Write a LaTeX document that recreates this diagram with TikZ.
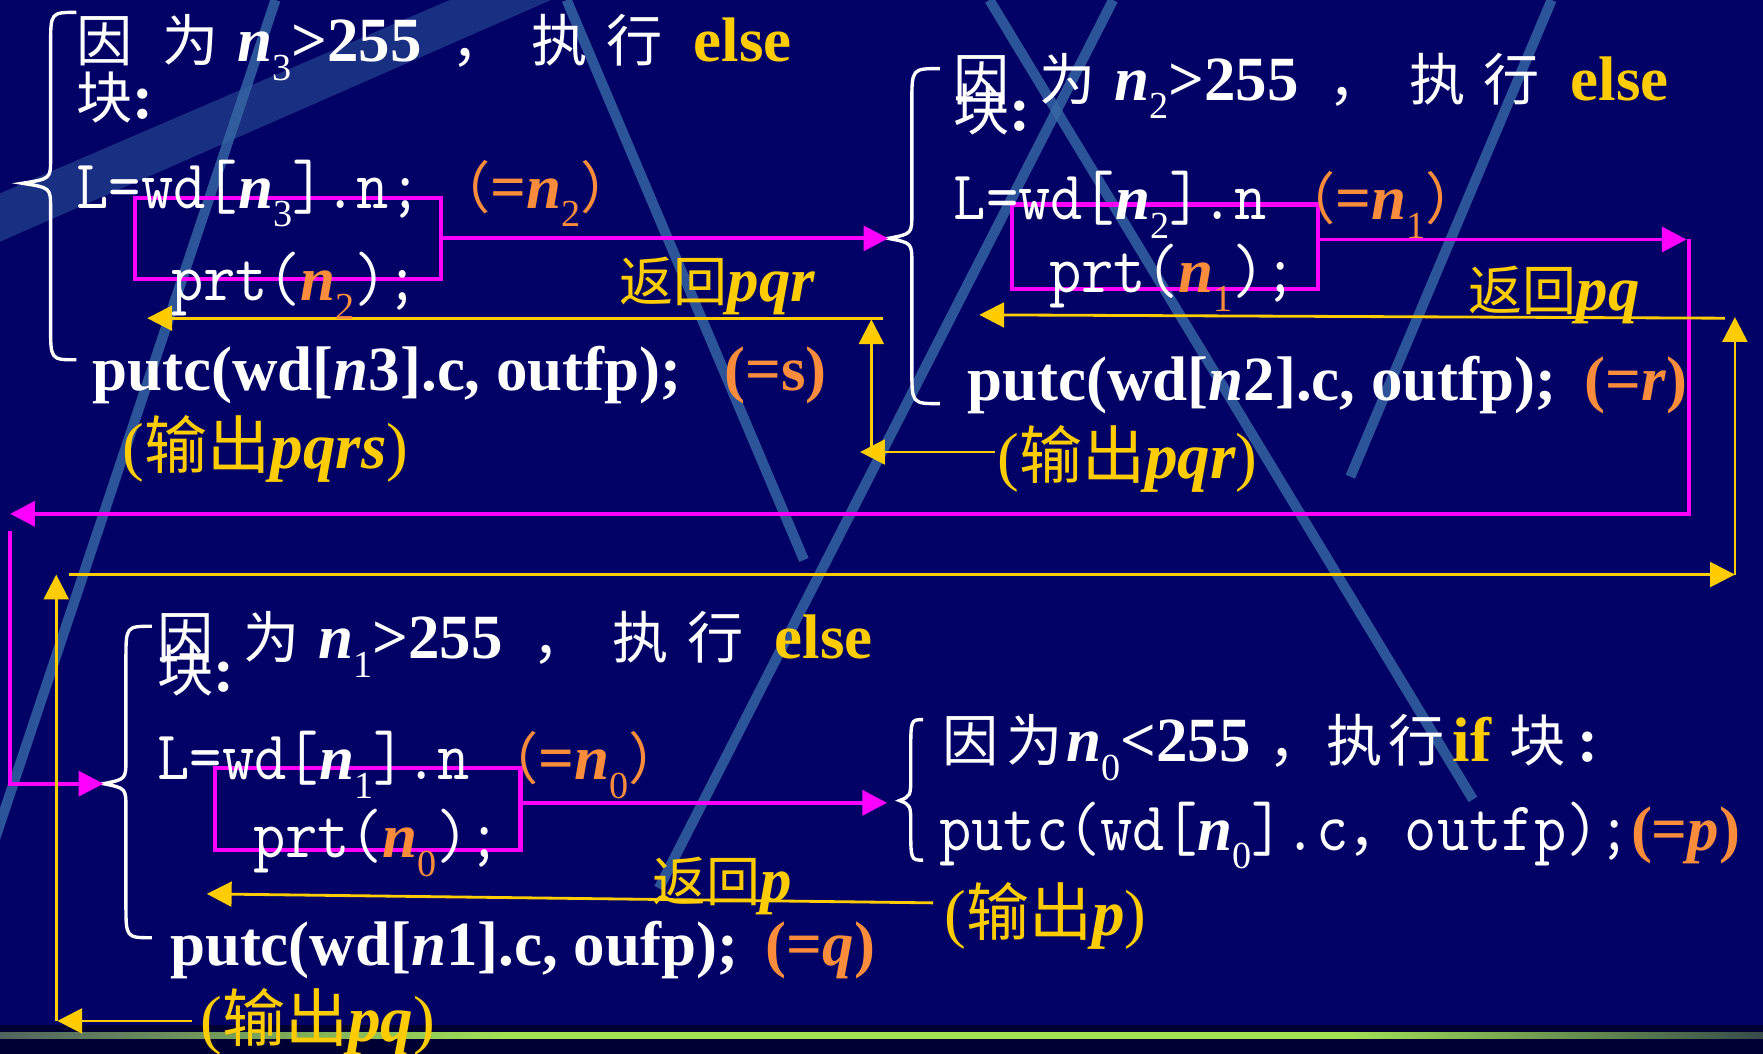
\documentclass[tikz,border=0pt]{standalone}
\usepackage{fontspec}
\setmainfont{Liberation Serif}
\newfontfamily\cjkf{Noto Sans CJK SC}
\newfontfamily\monof[FakeStretch=0.9]{Latin Modern Mono}
\usetikzlibrary{arrows.meta}
\definecolor{bgc}{RGB}{2,2,102}
\definecolor{ylw}{RGB}{255,204,0}
\definecolor{org}{RGB}{250,140,60}
\definecolor{mag}{RGB}{255,0,255}
\definecolor{strp}{RGB}{55,105,165}
\definecolor{band}{RGB}{0,0,52}
\definecolor{grnmid}{RGB}{160,225,85}
\definecolor{grnl}{RGB}{80,100,95}
\definecolor{grnr}{RGB}{55,75,75}

\newcommand\mysub[1]{\raisebox{-0.3em}{\fontsize{34}{34}\selectfont\mdseries\upshape #1}}
\newcommand\bi[1]{{\bfseries\itshape #1}}
\newcommand\CJ[1]{{\cjkf\fontsize{50}{50}\selectfont #1}}
\newcommand\MO[1]{{\monof\fontsize{62}{62}\selectfont #1}}
\newcommand\outlbl[1]{{\mdseries\upshape(}{\cjkf\fontsize{56}{56}\selectfont 输出}{\bfseries\itshape #1}{\mdseries\upshape)}}
\newcommand\retlbl[1]{{\cjkf\fontsize{48}{48}\selectfont 返回}{\bfseries\itshape #1}}
\newcommand\elseline[1]{\makebox[76pt][l]{\CJ{因}}\makebox[67pt][l]{\CJ{为}}\makebox[190pt][l]{\bi{n}\mysub{#1}\textbf{>255}}\makebox[72pt][l]{\CJ{，}}\makebox[66pt][l]{\CJ{执}}\makebox[78pt][l]{\CJ{行}}\textcolor{ylw}{\textbf{else}}}
% brace: xr, xm, xt, yt, ym, yb
\newcommand\bracedraw[6]{%
\draw[bracest] (#1,#4) .. controls (#2,#4) .. (#2,#4+30) -- (#2,#5-22) .. controls (#2,#5-4) .. (#3,#5) .. controls (#2,#5+4) .. (#2,#5+22) -- (#2,#6-30) .. controls (#2,#6) .. (#1,#6);}

\tikzset{
  txt/.style={text=white, inner sep=0pt, anchor=base west, font=\fontsize{56}{60}\selectfont},
  bold/.style={txt, font=\bfseries\fontsize{56}{60}\selectfont},
  outl/.style={txt, text=ylw, font=\fontsize{58}{60}\selectfont},
  stripe/.style={strp, line width=9pt, opacity=0.8},
  bracest/.style={white, line width=3pt},
  magbox/.style={draw=mag, line width=4pt, inner sep=0pt},
  magline/.style={mag, line width=3.5pt},
  ylwline/.style={ylw, line width=2.5pt},
  headm/.style={-{Triangle[length=22pt,width=22pt]}},
}

\begin{document}
\begin{tikzpicture}[x=1pt,y=-1pt]
\useasboundingbox (0,0) rectangle (1568,937);
\fill[bgc] (0,0) rectangle (1568,937);

% background stripes
\fill[strp, opacity=0.45] (0,172) -- (400,0) -- (490,0) -- (0,215) -- cycle;
\draw[stripe] (245,0) -- (-75,957);
\draw[stripe] (504,0) -- (715,498);
\draw[stripe] (990,0) -- (586,790);
\draw[stripe] (880,0) -- (1310,711);
\draw[stripe] (1380,0) -- (1201,424);

% bottom band
\fill[band] (0,912) rectangle (1568,937);
\shade[left color=grnl, right color=grnmid] (0,918) rectangle (450,924);
\fill[grnmid] (449,918) rectangle (1201,924);
\shade[left color=grnmid, right color=grnr] (1200,918) rectangle (1568,924);

% braces
\bracedraw{68}{45}{20}{11}{163}{320}
\bracedraw{836}{811}{790}{61}{212}{359}
\bracedraw{135}{112}{92}{557}{697}{834}
\bracedraw{821}{810}{800}{640}{712}{765}

% coordinates
\coordinate (tipTR) at (790,212);
\coordinate (tipBL) at (92,697);
\coordinate (tipBR) at (789,714);
\coordinate (mTR1) at (1500,213);
\coordinate (mTR2) at (1502,213);
\coordinate (mTR3) at (1502,457);
\coordinate (mL1) at (9,457);
\coordinate (mL2) at (9,472);
\coordinate (mL3) at (9,697);
\coordinate (retTLs) at (785,283);
\coordinate (retTLe) at (131,283);
\coordinate (vTLb) at (775,402);
\coordinate (vTLt) at (775,284);
\coordinate (oTR) at (885,402);
\coordinate (oTRe) at (765,402);
\coordinate (retTRs) at (1534,283);
\coordinate (retTRe) at (871,280);
\coordinate (vRb) at (1543,511);
\coordinate (vRt) at (1543,282);
\coordinate (hL) at (61,511);
\coordinate (vLb) at (50,908);
\coordinate (vLt) at (50,511);
\coordinate (oBL) at (171,908);
\coordinate (oBLe) at (51,908);
\coordinate (retBLs) at (830,803);
\coordinate (retBLe) at (184,795);

% magenta boxes
\node[magbox, minimum width=272pt, minimum height=72pt] (rTL) at (256,212) {};
\node[magbox, minimum width=272pt, minimum height=75pt] (rTR) at (1036,219.5) {};
\node[magbox, minimum width=272pt, minimum height=73pt] (rBL) at (327,719.5) {};

% magenta connectors
\draw[magline, headm] (rTL.east) -- (tipTR);
\draw[magline, headm] (rTR.east |- mTR1) -- (mTR1);
\draw[magline, headm] (mTR2) -- (mTR3) -- (mL1);
\draw[magline, headm] (mL2) -- (mL3) -- (tipBL);
\draw[magline, headm] (rBL.east |- tipBR) -- (tipBR);

% yellow connectors
\draw[ylwline, headm] (retTLs) -- (retTLe);
\draw[ylwline, headm] (vTLb) -- (vTLt);
\draw[ylwline, headm] (oTR) -- (oTRe);
\draw[ylwline, headm] (retTRs) -- (retTRe);
\draw[ylwline, headm] (vRb) -- (vRt);
\draw[ylwline, headm] (hL) -- (vRb);
\draw[ylwline, headm] (vLb) -- (vLt);
\draw[ylwline, headm] (oBL) -- (oBLe);
\draw[ylwline, headm] (retBLs) -- (retBLe);

% top-left block
\node[txt] (tl1) at (68,55) {\elseline{3}};
\node[txt] (tl2) at (68,105) {\CJ{块}\textbf{:}};
\node[txt] (tl3) at (68,185) {\MO{L=wd[}\bi{n}\mysub{3}\MO{].n;}};
\node[txt, text=org] (tl4) at (386,185) {\CJ{（}\textbf{=}\bi{n}\mysub{2}\CJ{）}};
\node[txt] (tl5) at (152,267) {\MO{prt(}\textcolor{org}{\bi{n}\mysub{2}}\MO{);}};
\node[txt, text=ylw] (tl6) at (551,268) {\retlbl{pqr}};
\node[bold] (tl7) at (82,347) {putc(wd[\textit{n}3].c, outfp);};
\node[bold, text=org] (tl8) at (644,347) {(=s)};
\node[outl] (tl9) at (109,417) {\outlbl{pqrs}};

% top-right block
\node[txt] (tr1) at (848,89) {\elseline{2}};
\node[txt] (tr2) at (848,116) {\CJ{块}\textbf{:}};
\node[txt] (tr3) at (848,195) {\MO{L=wd[}\bi{n}\mysub{2}\MO{].n}};
\node[txt, text=org] (tr4) at (1138,195) {\CJ{（}\textbf{=}\bi{n}\mysub{1}\CJ{）}};
\node[txt] (tr5) at (933,260) {\MO{prt(}\textcolor{org}{\bi{n}\mysub{1}}\MO{);}};
\node[txt, text=ylw] (tr6) at (1306,276) {\retlbl{pq}};
\node[bold] (tr7) at (860,356) {putc(wd[\textit{n}2].c, outfp);};
\node[bold, text=org] (tr8) at (1409,356) {(=\textit{r})};
\node[outl] (tr9) at (887,426) {\outlbl{pqr}};

% bottom-left block
\node[txt] (bl1) at (140,586) {\elseline{1}};
\node[txt] (bl2) at (140,615) {\CJ{块}\textbf{:}};
\node[txt] (bl3) at (140,693) {\MO{L=wd[}\bi{n}\mysub{1}\MO{].n}};
\node[txt, text=org] (bl4) at (429,693) {\CJ{（}\textbf{=}\bi{n}\mysub{0}\CJ{）}};
\node[txt] (bl5) at (225,763) {\MO{prt(}\textcolor{org}{\bi{n}\mysub{0}}\MO{);}};
\node[txt, text=ylw] (bl6) at (580,802) {\retlbl{p}};
\node[bold] (bl7) at (151,859) {putc(wd[\textit{n}1].c, oufp);};
\node[bold, text=org] (bl8) at (681,859) {(=\textit{q})};
\node[outl] (bl9) at (178,926) {\outlbl{pq}};

% bottom-right block
\node[txt] (br1) at (838,677) {\makebox[57pt][l]{\CJ{因}}\makebox[53pt][l]{\CJ{为}}\makebox[180pt][l]{\bi{n}\mysub{0}\textbf{<255}}\makebox[52pt][l]{\CJ{，}}\makebox[55pt][l]{\CJ{执}}\makebox[57pt][l]{\CJ{行}}\makebox[50pt][l]{\textcolor{ylw}{\textbf{if}}}\makebox[61pt][l]{\CJ{块}}\textbf{:}};
\node[txt] (br2) at (835,756) {\MO{putc(wd[}\bi{n}\mysub{0}\MO{].c}\CJ{，}\MO{outfp);}\textcolor{org}{\textbf{(=\textit{p})}}};
\node[outl] (br3) at (840,832) {\outlbl{p}};
\end{tikzpicture}
\end{document}
